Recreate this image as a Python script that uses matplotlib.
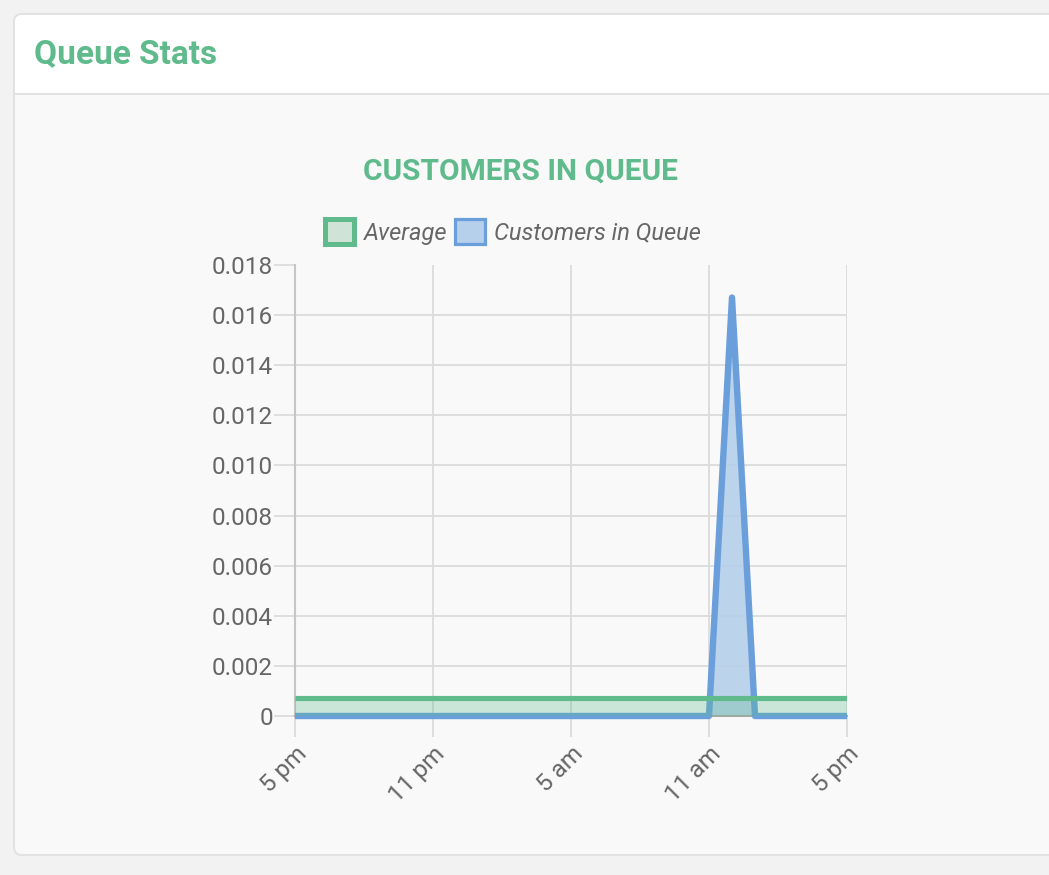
import matplotlib
matplotlib.use("Agg")
import matplotlib.pyplot as plt
from matplotlib.patches import FancyBboxPatch, Rectangle, Patch
from matplotlib.transforms import Affine2D
import numpy as np

# data, hourly from 5 pm to 5 pm next day
hours = ["5 pm", "6 pm", "7 pm", "8 pm", "9 pm", "10 pm", "11 pm", "12 am", "1 am",
         "2 am", "3 am", "4 am", "5 am", "6 am", "7 am", "8 am", "9 am", "10 am",
         "11 am", "12 pm", "1 pm", "2 pm", "3 pm", "4 pm", "5 pm"]
queue = [0, 0, 0, 0, 0, 0, 0, 0, 0, 0, 0, 0, 0, 0, 0, 0, 0, 0,
         0, 0.0167, 0, 0, 0, 0, 0]
average = [0.00072] * len(hours)
tick_idx = [0, 6, 12, 18, 24]
y_ticks = [0, 0.002, 0.004, 0.006, 0.008, 0.010, 0.012, 0.014, 0.016, 0.018]
y_labels = ["0", "0.002", "0.004", "0.006", "0.008", "0.010", "0.012", "0.014", "0.016", "0.018"]

green = "#5fbb8c"
blue = "#6a9fdc"
grey_txt = "#666666"

W, H = 1049, 875
plt.rcParams['font.family'] = ['Roboto', 'DejaVu Sans']
fig = plt.figure(figsize=(W / 100, H / 100), dpi=100)
fig.patch.set_facecolor("#f2f2f2")

# pixel coords, origin top-left
px = Affine2D().scale(1 / W, -1 / H).translate(0, 1) + fig.transFigure

# card
card = FancyBboxPatch((14, 14), 1100, 841, boxstyle="round,pad=0,rounding_size=8",
                      facecolor="#f9f9f9", edgecolor="#e2e2e2", linewidth=1.5,
                      transform=px, zorder=0)
fig.add_artist(card)
head = FancyBboxPatch((15, 15), 1100, 78, boxstyle="round,pad=0,rounding_size=7",
                      facecolor="white", edgecolor="none", transform=px, zorder=0)
fig.add_artist(head)
fig.add_artist(Rectangle((15, 60), 1100, 33, facecolor="white", edgecolor="none",
                         transform=px, zorder=0))
fig.add_artist(plt.Line2D([14, 1049], [93.5, 93.5], color="#e2e2e2", lw=1.5,
                          transform=px, zorder=1))

fig.text(34, 54, "Queue Stats", transform=px, color=green, fontsize=24,
         fontweight="bold", va="center", ha="left")
fig.text(520, 172, "CUSTOMERS IN QUEUE", transform=px, color=green, fontsize=21.5,
         fontweight="bold", va="center", ha="center")

ax = fig.add_axes([295 / W, 1 - 716 / H, (847 - 295) / W, (716 - 265) / H])
ax.set_facecolor("none")

x = np.arange(len(hours))
ax.fill_between(x, 0, queue, color="#b6cfeb", alpha=0.9, lw=0, zorder=2)
ax.plot(x, queue, color=blue, lw=4.6, solid_joinstyle="round", solid_capstyle="butt",
        clip_on=False, zorder=3)
ax.fill_between(x, 0, average, color=green, alpha=0.3, lw=0, zorder=4)
ax.plot(x, average, color=green, lw=3.7, solid_capstyle="butt", zorder=5)

ax.set_xlim(0, 24)
ax.set_ylim(0, 0.018)
ax.set_xticks(tick_idx)
ax.set_xticklabels([hours[i] for i in tick_idx], rotation=45, ha="right",
                   rotation_mode="anchor")
ax.set_yticks(y_ticks)
ax.set_yticklabels(y_labels)
ax.tick_params(axis="both", colors="#dcdcdc", labelcolor=grey_txt, labelsize=17.5,
               length=15, width=1.3)
ax.tick_params(axis="x", pad=4)
ax.tick_params(axis="y", pad=1)
ax.grid(True, color="#dcdcdc", lw=1.3, zorder=0)
ax.yaxis.get_gridlines()[-1].set_visible(False)
for s in ["top", "right"]:
    ax.spines[s].set_visible(False)
ax.spines["left"].set_color("#c6c6c6")
ax.spines["left"].set_linewidth(1.5)
ax.spines["bottom"].set_color("#a8a8a8")
ax.spines["bottom"].set_linewidth(1.5)
ax.set_axisbelow(True)

handles = [Patch(facecolor="#cfe4d7", edgecolor=green, linewidth=3.6, label="Average"),
           Patch(facecolor="#b6cfeb", edgecolor=blue, linewidth=2.3, label="Customers in Queue")]
leg = fig.legend(handles=handles, loc="center", bbox_to_anchor=(513 / W, 1 - 232 / H),
                 ncol=2, frameon=False, handlelength=1.25, handleheight=1.25,
                 handletextpad=0.4, columnspacing=0.35,
                 prop={"size": 17, "style": "italic"})
for t in leg.get_texts():
    t.set_color(grey_txt)

fig.savefig("out.png", dpi=100, facecolor=fig.get_facecolor())
